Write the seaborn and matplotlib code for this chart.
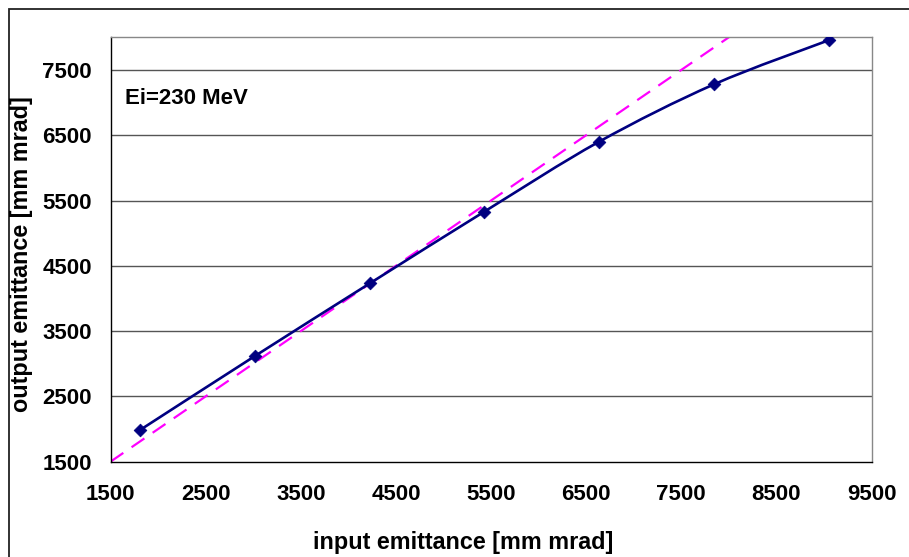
import numpy as np
import matplotlib
matplotlib.use("Agg")
import matplotlib.pyplot as plt
import seaborn as sns
from matplotlib.path import Path
from matplotlib.patches import PathPatch, Rectangle

# values
input_emittance = [1810, 3020, 4230, 5430, 6635, 7845, 9050]
output_emittance = [1985, 3120, 4235, 5330, 6400, 7280, 7955]
diagonal_x = [1500, 8000]
diagonal_y = [1500, 8000]
x_ticks = [1500, 2500, 3500, 4500, 5500, 6500, 7500, 8500, 9500]
y_ticks = [1500, 2500, 3500, 4500, 5500, 6500, 7500]
energy_label = "Ei=230 MeV"


def smooth_path(xs, ys):
    # Excel-style smoothed line: cubic bezier segments with catmull-rom tangents
    pts = np.column_stack([xs, ys]).astype(float)
    padded = np.vstack([pts[0], pts, pts[-1]])
    verts = [pts[0]]
    codes = [Path.MOVETO]
    for i in range(1, len(padded) - 2):
        p0, p1, p2, p3 = padded[i - 1], padded[i], padded[i + 1], padded[i + 2]
        c1 = p1 + (p2 - p0) / 6.0
        c2 = p2 - (p3 - p1) / 6.0
        verts += [c1, c2, p2]
        codes += [Path.CURVE4] * 3
    return Path(verts, codes)


def main():
    sns.set_style("white")
    plt.rcParams["font.family"] = ["Liberation Sans", "DejaVu Sans"]
    plt.rcParams["font.weight"] = "bold"
    for key in ["text.color", "axes.labelcolor", "xtick.color", "ytick.color"]:
        plt.rcParams[key] = "black"

    fig = plt.figure(figsize=(9.09, 5.57), dpi=100)
    ax = fig.add_axes([110.5 / 909, 1 - 461.7 / 557, 761 / 909, 424.4 / 557])

    # outer chart frame
    fig.patches.append(Rectangle((9 / 909, -0.1), 1.2, 1.1 - 9 / 557,
                                 transform=fig.transFigure, fill=False,
                                 edgecolor="#222222", linewidth=1.3))

    for y in y_ticks[1:]:
        ax.axhline(y, color="#555555", linewidth=1.0, zorder=1)

    sns.lineplot(x=diagonal_x, y=diagonal_y, ax=ax, color="#FF00FF",
                 linewidth=1.6, zorder=2)
    ax.lines[-1].set_dashes([7, 4.5])

    ax.add_patch(PathPatch(smooth_path(input_emittance, output_emittance),
                           facecolor="none", edgecolor="#000080",
                           linewidth=1.9, zorder=3))
    sns.scatterplot(x=input_emittance, y=output_emittance, ax=ax, marker="D",
                    s=42, color="#000080", edgecolor="#000080", zorder=4)

    ax.set_xlim(1500, 9500)
    ax.set_ylim(1500, 8000)
    ax.set_xticks(x_ticks)
    ax.set_yticks(y_ticks)
    ax.tick_params(axis="both", direction="out", length=5.4, width=1.0,
                   labelsize=16, color="black")
    ax.tick_params(axis="x", pad=11)
    ax.tick_params(axis="y", pad=8)
    for lbl in ax.get_xticklabels() + ax.get_yticklabels():
        lbl.set_fontweight("bold")

    ax.spines["left"].set_color("black")
    ax.spines["bottom"].set_color("black")
    ax.spines["top"].set_color("#888888")
    ax.spines["right"].set_color("#888888")
    for s in ax.spines.values():
        s.set_linewidth(1.0)

    fig.text(125 / 909, 1 - 99 / 557, energy_label,
             fontsize=16, fontweight="bold", va="center", ha="left")
    fig.text(463 / 909, 1 - 543 / 557, "input emittance [mm mrad]",
             fontsize=16.8, fontweight="bold", ha="center", va="center")
    fig.text(22 / 909, 1 - 254 / 557, "output emittance [mm mrad]",
             fontsize=16.8, fontweight="bold", ha="center", va="center",
             rotation=90)

    fig.savefig("out.png", dpi=100)
    plt.close(fig)


if __name__ == "__main__":
    main()
